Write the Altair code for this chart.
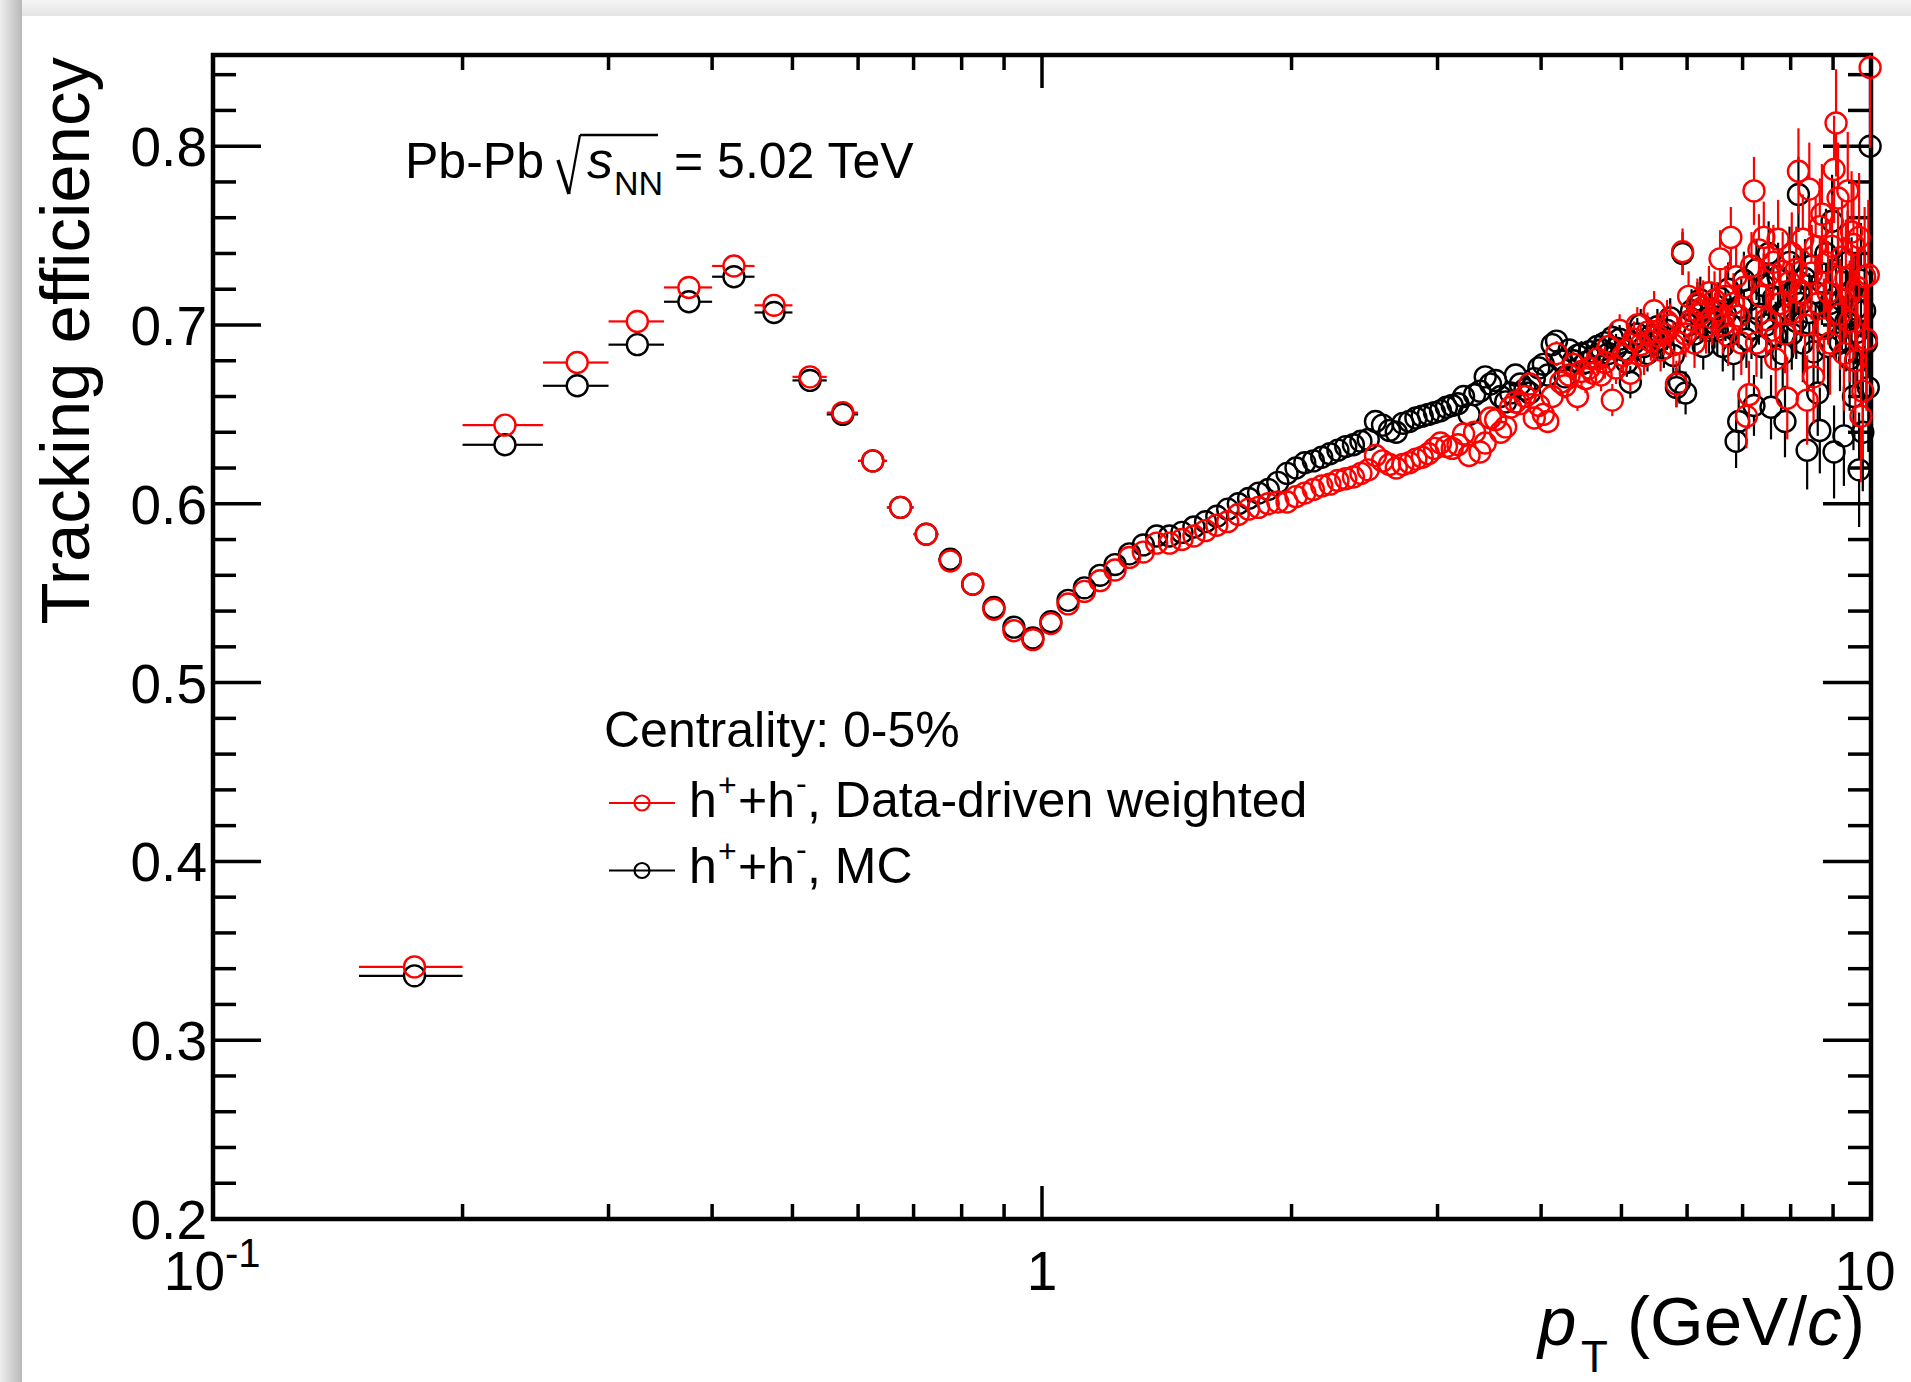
import altair as alt
import numpy as np
import pandas as pd

# ---------------- data ----------------
PT_CENTERS = [
    0.175, 0.225, 0.275, 0.325, 0.375, 0.425, 0.475, 0.525, 0.575, 0.625, 0.675, 0.725, 0.775, 0.825, 0.875, 0.925, 0.975,
    1.025, 1.075, 1.125, 1.175, 1.225, 1.275, 1.325, 1.375, 1.425, 1.475, 1.525, 1.575, 1.625, 1.675, 1.725, 1.775, 1.825, 1.875, 1.925, 1.975,
    2.025, 2.075, 2.125, 2.175, 2.225, 2.275, 2.325, 2.375, 2.425, 2.475, 2.525, 2.575, 2.625, 2.675, 2.725, 2.775, 2.825, 2.875, 2.925, 2.975,
    3.025, 3.075, 3.125, 3.175, 3.225, 3.275, 3.325, 3.375, 3.425, 3.475, 3.525, 3.575, 3.625, 3.675, 3.725, 3.775, 3.825, 3.875, 3.925, 3.975,
    4.025, 4.075, 4.125, 4.175, 4.225, 4.275, 4.325, 4.375, 4.425, 4.475, 4.525, 4.575, 4.625, 4.675, 4.725, 4.775, 4.825, 4.875, 4.925, 4.975,
    5.025, 5.075, 5.125, 5.175, 5.225, 5.275, 5.325, 5.375, 5.425, 5.475, 5.525, 5.575, 5.625, 5.675, 5.725, 5.775, 5.825, 5.875, 5.925, 5.975,
    6.025, 6.075, 6.125, 6.175, 6.225, 6.275, 6.325, 6.375, 6.425, 6.475, 6.525, 6.575, 6.625, 6.675, 6.725, 6.775, 6.825, 6.875, 6.925, 6.975,
    7.025, 7.075, 7.125, 7.175, 7.225, 7.275, 7.325, 7.375, 7.425, 7.475, 7.525, 7.575, 7.625, 7.675, 7.725, 7.775, 7.825, 7.875, 7.925, 7.975,
    8.025, 8.075, 8.125, 8.175, 8.225, 8.275, 8.325, 8.375, 8.425, 8.475, 8.525, 8.575, 8.625, 8.675, 8.725, 8.775, 8.825, 8.875, 8.925, 8.975,
    9.025, 9.075, 9.125, 9.175, 9.225, 9.275, 9.325, 9.375, 9.425, 9.475, 9.525, 9.575, 9.625, 9.675, 9.725, 9.775, 9.825, 9.875, 9.925, 9.975,
]
BIN_HALF_WIDTH = 0.025

# efficiency in units of 1e-3
EFF_DATA_DRIVEN = [
    341, 644, 679, 702, 721, 733, 711, 671, 651, 624, 598, 583, 568, 555, 541, 529, 524,
    533, 544, 551, 557, 563, 570, 573, 578, 578, 580, 582, 585, 588, 590, 594, 597, 598, 600, 601, 601,
    604, 606, 608, 610, 611, 613, 614, 615, 617, 619, 627, 624, 622, 620, 622, 623, 625, 626, 628, 631,
    634, 632, 631, 633, 639, 627, 640, 629, 634, 648, 647, 640, 643, 654, 657, 656, 660, 667, 648, 655,
    650, 646, 660, 684, 668, 666, 672, 678, 660, 674, 670, 676, 673, 681, 672, 679, 688, 658, 676, 697,
    683, 686, 673, 692, 700, 689, 683, 696, 691, 708, 694, 686, 695, 702, 700, 689, 667, 690, 741, 695,
    716, 703, 690, 712, 706, 710, 699, 718, 704, 714, 708, 737, 700, 716, 694, 749, 712, 727, 705, 690,
    721, 649, 661, 733, 775, 690, 742, 716, 749, 703, 728, 697, 735, 681, 748, 712, 730, 695, 659, 724,
    740, 707, 731, 786, 718, 748, 700, 658, 776, 729, 671, 744, 712, 755, 762, 698, 735, 718, 690, 744,
    787, 813, 771, 706, 738, 684, 726, 775, 702, 752, 745, 680, 721, 749, 649, 663, 727, 692, 728, 844,
]
EFF_MC = [
    336, 633, 666, 689, 713, 727, 707, 669, 650, 624, 598, 583, 569, 555, 542, 531, 525,
    534, 546, 553, 560, 566, 572, 577, 582, 582, 584, 587, 590, 593, 597, 600, 603, 606, 608, 612, 617,
    620, 623, 624, 626, 628, 630, 632, 633, 635, 636, 646, 644, 641, 640, 645, 646, 648, 649, 650, 651,
    652, 654, 655, 656, 660, 650, 661, 663, 671, 667, 669, 660, 657, 662, 672, 667, 664, 662, 670, 676,
    678, 672, 689, 691, 680, 671, 686, 680, 683, 684, 679, 685, 682, 688, 686, 690, 684, 693, 687, 692,
    686, 679, 668, 690, 695, 700, 688, 684, 694, 690, 699, 692, 687, 697, 704, 683, 665, 668, 740, 662,
    700, 708, 695, 711, 714, 688, 704, 697, 709, 701, 697, 715, 688, 706, 720, 700, 684, 635, 646, 710,
    725, 692, 714, 698, 655, 731, 706, 688, 722, 700, 740, 654, 715, 694, 727, 706, 684, 646, 709, 735,
    695, 718, 702, 773, 712, 690, 726, 630, 707, 733, 685, 718, 662, 641, 724, 700, 740, 688, 712, 758,
    629, 706, 727, 690, 714, 638, 702, 735, 681, 719, 660, 709, 696, 619, 725, 640, 708, 690, 665, 800,
]
# statistical errors in units of 1e-3
ERR_DATA_DRIVEN = [
    1, 1, 1, 1, 1, 1, 1, 1, 1, 1, 1, 1, 1, 1, 1, 1, 1,
    1, 1, 1, 1, 1, 1, 1, 1, 1, 1, 1, 1, 1, 2, 2, 2, 2, 2, 2, 2,
    2, 2, 2, 2, 2, 2, 2, 2, 2, 2, 3, 3, 3, 3, 3, 3, 3, 3, 3, 3,
    4, 4, 4, 4, 4, 4, 4, 4, 4, 4, 5, 5, 5, 5, 5, 5, 5, 5, 5, 5,
    6, 6, 6, 7, 7, 7, 7, 7, 8, 8, 8, 8, 8, 8, 9, 9, 9, 9, 9, 9,
    10, 10, 10, 10, 10, 11, 11, 11, 11, 11, 12, 12, 12, 12, 12, 13, 13, 13, 13, 13,
    14, 14, 14, 14, 15, 15, 15, 15, 15, 16, 16, 16, 16, 17, 17, 17, 17, 17, 18, 18,
    18, 18, 19, 19, 19, 19, 20, 20, 20, 20, 21, 21, 21, 21, 22, 22, 22, 22, 23, 23,
    23, 23, 24, 24, 24, 25, 25, 25, 26, 26, 26, 27, 27, 27, 28, 28, 28, 29, 29, 29,
    30, 30, 31, 31, 32, 32, 33, 33, 34, 34, 35, 35, 36, 36, 37, 38, 39, 40, 42, 45,
]
ERR_MC = [
    1, 1, 1, 1, 1, 1, 1, 1, 1, 1, 1, 1, 1, 1, 1, 1, 1,
    1, 1, 1, 1, 1, 1, 1, 1, 1, 1, 1, 1, 1, 2, 2, 2, 2, 2, 2, 2,
    2, 2, 2, 2, 2, 2, 2, 2, 2, 2, 2, 2, 2, 2, 2, 2, 2, 2, 2, 2,
    3, 3, 3, 3, 3, 3, 3, 3, 3, 3, 4, 4, 4, 4, 4, 4, 4, 4, 4, 4,
    5, 5, 5, 6, 6, 6, 6, 6, 7, 7, 7, 7, 7, 7, 8, 8, 8, 8, 8, 8,
    8, 8, 9, 9, 9, 9, 9, 10, 10, 10, 10, 10, 11, 11, 11, 11, 11, 12, 12, 12,
    12, 12, 12, 13, 13, 13, 13, 13, 14, 14, 14, 14, 14, 15, 15, 15, 15, 15, 16, 16,
    16, 16, 16, 17, 17, 17, 17, 18, 18, 18, 18, 18, 19, 19, 19, 19, 20, 20, 20, 20,
    20, 21, 21, 21, 21, 22, 22, 22, 22, 23, 23, 23, 24, 24, 24, 24, 25, 25, 25, 26,
    26, 26, 27, 27, 28, 28, 28, 29, 29, 30, 30, 31, 31, 32, 32, 33, 34, 35, 36, 38,
]

SERIES = ["Data-driven weighted", "MC"]
Y_MAJOR_TICKS = [0.2, 0.3, 0.4, 0.5, 0.6, 0.7, 0.8]
Y_TICK_LABELS = ["0.2", "0.3", "0.4", "0.5", "0.6", "0.7", "0.8"]
Y_MINOR_TICKS = [0.22, 0.24, 0.26, 0.28, 0.32, 0.34, 0.36, 0.38, 0.42, 0.44, 0.46, 0.48,
                 0.52, 0.54, 0.56, 0.58, 0.62, 0.64, 0.66, 0.68, 0.72, 0.74, 0.76, 0.78,
                 0.82, 0.84]
X_MAJOR_TICKS = [1.0]
X_MINOR_TICKS = [0.2, 0.3, 0.4, 0.5, 0.6, 0.7, 0.8, 0.9, 2, 3, 4, 5, 6, 7, 8, 9]

# ---------------- layout / style ----------------
W, H = 1658, 1164
PAD = {"left": 213, "top": 55, "right": 40, "bottom": 163}
X_DOMAIN = [0.1, 10.0]
Y_DOMAIN = [0.2, 0.851]
FONT = "Liberation Sans"
RED = "#ff0000"
BLACK = "#000000"
MARKER_SIZE = 440
MARKER_STROKE = 2.4
MARKER_GAP_PX = 11

xs = alt.Scale(type="log", domain=X_DOMAIN, nice=False)
ys = alt.Scale(domain=Y_DOMAIN, nice=False, zero=False)
ONE = pd.DataFrame({"k": [0]})


def series_frame(name, eff, err):
    return pd.DataFrame({
        "pt": PT_CENTERS,
        "eff": np.asarray(eff, dtype=float) / 1000.0,
        "err": np.asarray(err, dtype=float) / 1000.0,
        "series": name,
    })


def error_segments(df):
    """ROOT-style error bars: drawn only outside the open marker."""
    gap_y = MARKER_GAP_PX / (H / (Y_DOMAIN[1] - Y_DOMAIN[0]))
    ratio_x = 10 ** (MARKER_GAP_PX / (W / np.log10(X_DOMAIN[1] / X_DOMAIN[0])))
    rows = []
    for pt, eff, err in zip(df["pt"], df["eff"], df["err"]):
        if err > gap_y:
            rows.append({"x": pt, "x2": pt, "y": eff - err, "y2": eff - gap_y})
            rows.append({"x": pt, "x2": pt, "y": eff + gap_y, "y2": eff + err})
        lo, hi = pt - BIN_HALF_WIDTH, pt + BIN_HALF_WIDTH
        if pt / ratio_x > lo:
            rows.append({"x": lo, "x2": pt / ratio_x, "y": eff, "y2": eff})
            rows.append({"x": pt * ratio_x, "x2": hi, "y": eff, "y2": eff})
    return pd.DataFrame(rows)


dd = series_frame(SERIES[0], EFF_DATA_DRIVEN, ERR_DATA_DRIVEN)
mc = series_frame(SERIES[1], EFF_MC, ERR_MC)


def err_layer(df, color):
    return alt.Chart(error_segments(df)).mark_rule(color=color, strokeWidth=2.2, clip=True).encode(
        x=alt.X("x:Q", scale=xs, axis=None), x2="x2:Q",
        y=alt.Y("y:Q", scale=ys, axis=None), y2="y2:Q",
    )


def point_layer(df, color):
    return alt.Chart(df).mark_point(shape="circle", filled=False, size=MARKER_SIZE,
                                    strokeWidth=MARKER_STROKE, color=color, opacity=1).encode(
        x=alt.X("pt:Q", scale=xs, axis=None),
        y=alt.Y("eff:Q", scale=ys, axis=None),
    )


def tick_layer(values, axis, length, side):
    df = pd.DataFrame({"v": values})
    base = alt.Chart(df).mark_rule(color="black", strokeWidth=3.5)
    if axis == "y":
        x0 = 0 if side == "near" else W
        x1 = length if side == "near" else W - length
        return base.encode(y=alt.Y("v:Q", scale=ys, axis=None), x=alt.value(x0), x2=alt.value(x1))
    y0 = H if side == "near" else 0
    y1 = H - length if side == "near" else length
    return base.encode(x=alt.X("v:Q", scale=xs, axis=None), y=alt.value(y0), y2=alt.value(y1))


def txt(s, x, y, size, align="left", style="normal", angle=None, baseline="alphabetic", color="black"):
    kw = dict(text=s, font=FONT, fontSize=size, align=align, baseline=baseline,
              color=color, fontStyle=style)
    if angle is not None:
        kw["angle"] = angle
    return alt.Chart(ONE).mark_text(**kw).encode(x=alt.value(x), y=alt.value(y))


def seg(x0, y0, x1, y1, width=2.5, color="black"):
    return alt.Chart(ONE).mark_rule(color=color, strokeWidth=width).encode(
        x=alt.value(x0), x2=alt.value(x1), y=alt.value(y0), y2=alt.value(y1))


def block(x0, y0, x1, y1, fill):
    return alt.Chart(ONE).mark_rect(fill=fill).encode(
        x=alt.value(x0), x2=alt.value(x1), y=alt.value(y0), y2=alt.value(y1))


# tick labels, placed through the scales
y_labels = alt.Chart(pd.DataFrame({"v": Y_MAJOR_TICKS, "label": Y_TICK_LABELS})).mark_text(
    font=FONT, fontSize=55, align="right", baseline="alphabetic", dy=20, color="black"
).encode(y=alt.Y("v:Q", scale=ys, axis=None), x=alt.value(-6), text="label:N")

x_label_1 = alt.Chart(pd.DataFrame({"v": [1.0], "label": ["1"]})).mark_text(
    font=FONT, fontSize=55, align="center", baseline="alphabetic", color="black"
).encode(x=alt.X("v:Q", scale=xs, axis=None), y=alt.value(1235), text="label:N")
x_label_10 = alt.Chart(pd.DataFrame({"v": [10.0], "label": ["10"]})).mark_text(
    font=FONT, fontSize=55, align="center", baseline="alphabetic", dx=-6, color="black"
).encode(x=alt.X("v:Q", scale=xs, axis=None), y=alt.value(1235), text="label:N")
x_label_01 = alt.Chart(pd.DataFrame({"v": [0.1], "label": ["10"]})).mark_text(
    font=FONT, fontSize=55, align="right", baseline="alphabetic", dx=12, color="black"
).encode(x=alt.X("v:Q", scale=xs, axis=None), y=alt.value(1235), text="label:N")
x_label_01_exp = alt.Chart(pd.DataFrame({"v": [0.1], "label": ["-1"]})).mark_text(
    font=FONT, fontSize=40, align="left", baseline="alphabetic", dx=12, color="black"
).encode(x=alt.X("v:Q", scale=xs, axis=None), y=alt.value(1212), text="label:N")

# page shadow (screenshot border)
shadow_top = block(-PAD["left"], -PAD["top"], W + PAD["right"], -39,
                   {"gradient": "linear", "x1": 0, "y1": 0, "x2": 0, "y2": 1,
                    "stops": [{"offset": 0, "color": "#f5f5f5"}, {"offset": 1, "color": "#e4e4e4"}]})
shadow_left = block(-PAD["left"], -PAD["top"], -191, H + PAD["bottom"],
                    {"gradient": "linear", "x1": 0, "y1": 0, "x2": 1, "y2": 0,
                     "stops": [{"offset": 0, "color": "#eeeeee"}, {"offset": 1, "color": "#b8b8b8"}]})

ticks = [
    tick_layer(Y_MAJOR_TICKS, "y", 48, "near"), tick_layer(Y_MINOR_TICKS, "y", 23, "near"),
    tick_layer(Y_MAJOR_TICKS, "y", 48, "far"), tick_layer(Y_MINOR_TICKS, "y", 23, "far"),
    tick_layer(X_MAJOR_TICKS, "x", 33, "near"), tick_layer(X_MINOR_TICKS, "x", 15, "near"),
    tick_layer(X_MAJOR_TICKS, "x", 33, "far"), tick_layer(X_MINOR_TICKS, "x", 15, "far"),
]

# texts (positions relative to the plot area)
texts = [
    # axis titles
    txt("Tracking efficiency", -124, 2, 69, align="right", angle=270),
    txt("p", 1325, 1290, 69, style="italic"),
    txt("T", 1368, 1317, 44),
    txt("(GeV/", 1414, 1290, 69),
    txt("c", 1594, 1290, 69, style="italic"),
    txt(")", 1629, 1290, 69),
    # collision system
    txt("Pb-Pb", 192, 123, 50),
    txt("s", 374, 123, 52, style="italic"),
    txt("NN", 401, 140, 34),
    txt("= 5.02 TeV", 461, 123, 50),
    seg(345, 105, 356, 139, 3.5), seg(356, 139, 367, 80, 2.2), seg(367, 80, 445, 80, 2.5),
    # legend
    txt("Centrality: 0-5%", 391, 692, 50),
    txt("h", 476, 762, 50), txt("+", 505, 741, 32), txt("+h", 525, 762, 50), txt("-", 583, 739, 32),
    txt(", Data-driven weighted", 594, 762, 50),
    txt("h", 476, 828, 50), txt("+", 505, 807, 32), txt("+h", 525, 828, 50), txt("-", 583, 805, 32),
    txt(", MC", 594, 828, 50),
    seg(396, 748, 462, 748, 2.2, RED),
    seg(396, 815.5, 462, 815.5, 2.2, BLACK),
    alt.Chart(ONE).mark_point(shape="circle", filled=False, size=225, strokeWidth=2.2, color=RED, opacity=1)
    .encode(x=alt.value(429), y=alt.value(748)),
    alt.Chart(ONE).mark_point(shape="circle", filled=False, size=225, strokeWidth=2.2, color=BLACK, opacity=1)
    .encode(x=alt.value(429), y=alt.value(815.5)),
]

layers = [shadow_top, shadow_left] + ticks + [
    y_labels, x_label_1, x_label_10, x_label_01, x_label_01_exp,
    err_layer(mc, BLACK), point_layer(mc, BLACK),
    err_layer(dd, RED), point_layer(dd, RED),
] + texts

chart = alt.layer(*layers).properties(
    width=W, height=H,
    autosize=alt.AutoSizeParams(type="none"),
    padding=PAD,
).configure(background="white").configure_view(stroke="black", strokeWidth=4.5)

chart.save("out.html", embed_options={"renderer": "svg", "actions": False})
